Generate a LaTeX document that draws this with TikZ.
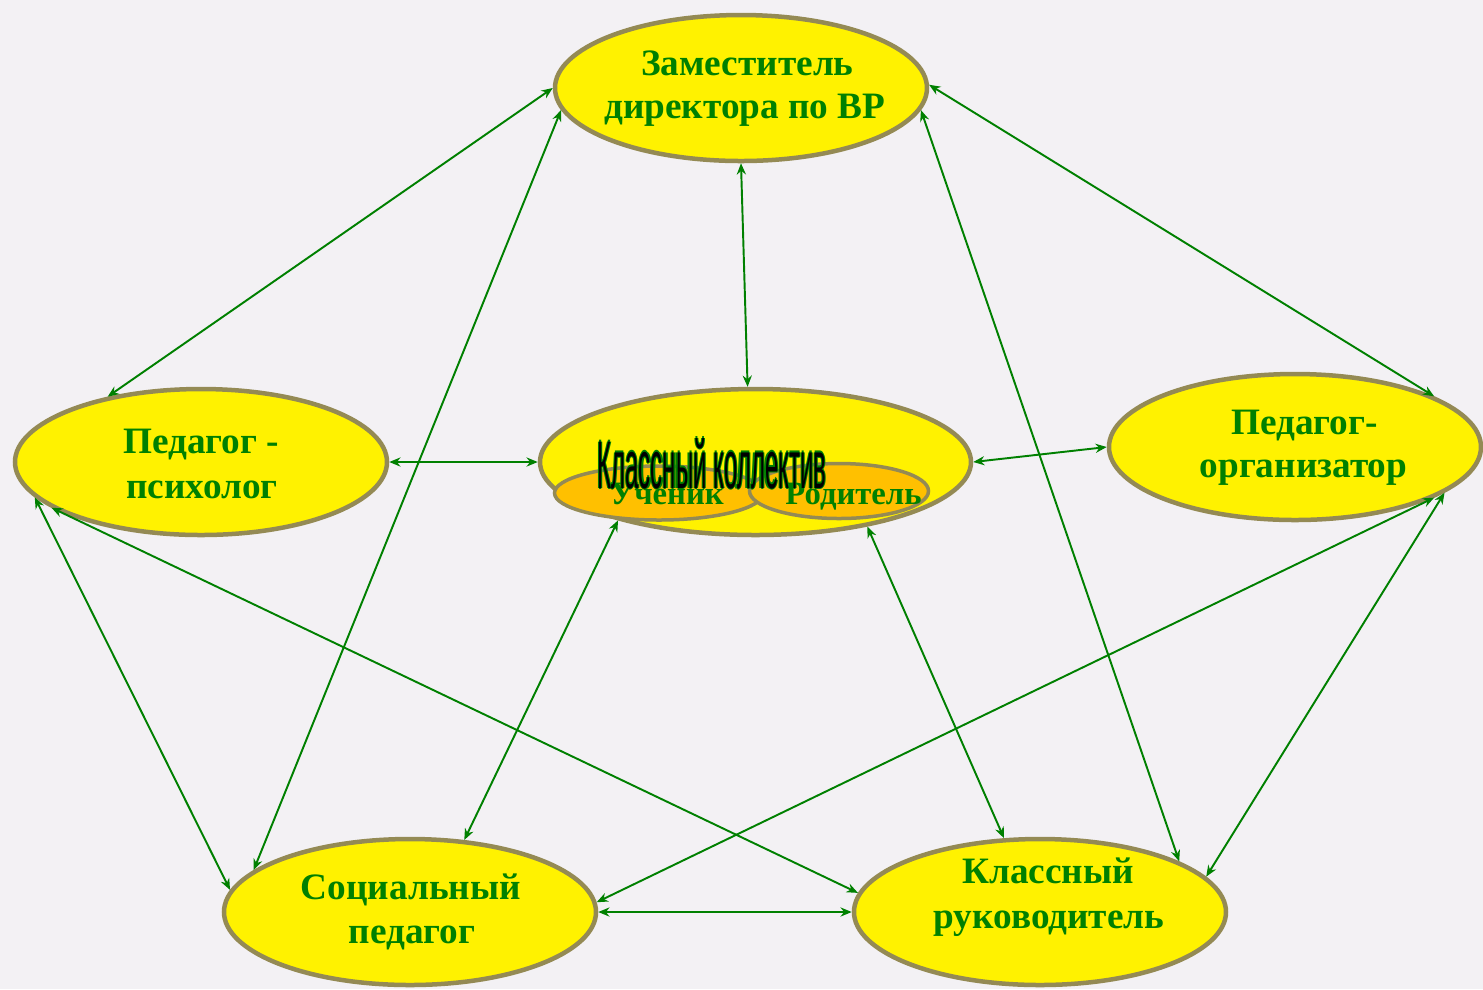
\documentclass[tikz,border=0pt]{standalone}
\usepackage{fontspec}
\setmainfont{Liberation Serif}
\newfontfamily\wafont{Liberation Sans}
\usetikzlibrary{shapes.geometric,arrows.meta}
\definecolor{bg}{RGB}{243,241,244}
\definecolor{rim}{RGB}{148,138,84}
\definecolor{gr}{RGB}{0,128,0}
\definecolor{gold}{RGB}{255,192,0}
\newcommand\kolText{\resizebox{2.29cm}{0.50cm}{\wafont Классный коллектив}}
\begin{document}
\begin{tikzpicture}[
  big/.style={ellipse, draw=rim, fill=yellow, line width=0.045cm, inner sep=0pt, minimum width=3.72cm, minimum height=1.46cm},
  small/.style={ellipse, draw=rim, fill=gold, line width=0.035cm, inner sep=0pt},
  lbl/.style={text=gr, font=\bfseries\fontsize{10.6}{13}\selectfont, anchor=base, inner sep=0pt},
  slbl/.style={text=gr, font=\bfseries\fontsize{9.3}{11}\selectfont, anchor=base, inner sep=0pt},
  link/.style={draw=gr, line width=0.55pt, {Stealth[length=3.2pt,width=2.6pt]}-{Stealth[length=3.2pt,width=2.6pt]}}
]
\fill[bg] (0,0) rectangle (14.83,-9.89);
\useasboundingbox (0,0) rectangle (14.83,-9.89);

% ellipses
\node[big] (zam) at (7.41,-0.88) {};
\node[big] (psy) at (2.01,-4.62) {};
\node[big, minimum width=4.31cm] (kol) at (7.555,-4.62) {};
\node[big] (org) at (12.95,-4.47) {};
\node[big] (soc) at (4.10,-9.12) {};
\node[big] (ruk) at (10.40,-9.12) {};
\node[small, minimum width=2.09cm, minimum height=0.54cm] (uch) at (6.59,-4.93) {};
\node[small, minimum width=1.79cm, minimum height=0.55cm] (rod) at (8.39,-4.91) {};

% labels
\node[lbl] (zam1) at (7.475,-0.75) {Заместитель};
\node[lbl] (zam2) at (7.45,-1.18) {директора по ВР};
\node[lbl] (psy1) at (2.01,-4.53) {Педагог -};
\node[lbl] (psy2) at (2.02,-4.98) {психолог};
\node[lbl] (org1) at (13.045,-4.34) {Педагог-};
\node[lbl] (org2) at (13.035,-4.77) {организатор};
\node[lbl] (soc1) at (4.11,-8.99) {Социальный};
\node[lbl] (soc2) at (4.12,-9.43) {педагог};
\node[lbl] (ruk1) at (10.48,-8.83) {Классный};
\node[lbl] (ruk2) at (10.49,-9.28) {руководитель};
\node[slbl] (uchT) at (6.67,-5.04) {Ученик};
\node[slbl] (rodT) at (8.535,-5.04) {Родитель};

% WordArt title
\foreach \dx/\dy in {0.012/0,-0.012/0,0/0.012,0/-0.012}{
  \node[anchor=base, inner sep=0pt, text=gr] at (7.12+\dx,-4.88+\dy) {\kolText};
}
\node[anchor=base, inner sep=0pt, text=black] (kolT) at (7.12,-4.88) {\kolText};

% connectors
\draw[link] (zam.180) -- (psy.145);
\draw[link] (zam.187) -- (soc.165);
\draw[link] (zam.270) -- (kol.96);
\draw[link] (zam.1) -- (org.20);
\draw[link] (zam.353) -- (ruk.20);
\draw[link] (psy.0) -- (kol.180);
\draw[link] (kol.0) -- (org.180);
\draw[link] (psy.192) -- (soc.173);
\draw[link] (psy.197) -- (ruk.174);
\draw[link] (kol.203) -- (soc.53);
\draw[link] (kol.330) -- (ruk.116);
\draw[link] (org.340) -- (soc.3);
\draw[link] (org.343) -- (ruk.12);
\draw[link] (soc.0) -- (ruk.180);
\end{tikzpicture}
\end{document}
